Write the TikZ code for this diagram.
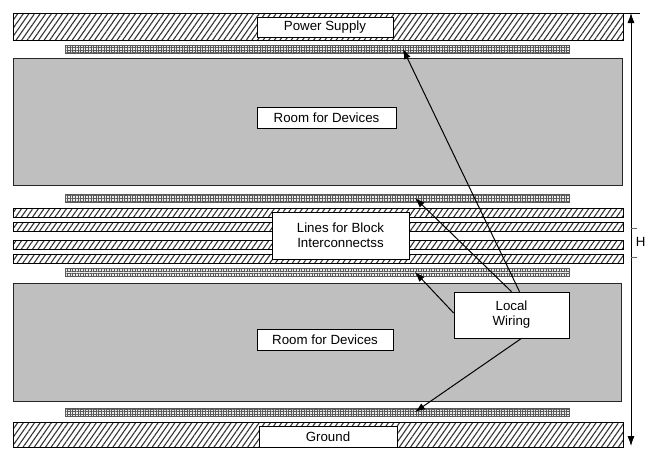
\documentclass[tikz,border=0pt]{standalone}
\usepackage{fontspec}
\setmainfont{Liberation Sans}
\usepackage{tikz}
\usetikzlibrary{arrows.meta, patterns.meta, positioning}
\definecolor{roomgray}{gray}{0.75}
\definecolor{railgray}{gray}{0.35}

\begin{document}
\begin{tikzpicture}[x=1pt, y=-1pt,
	hatched/.style={draw=black, line width=0.6pt, pattern={Lines[angle=55, distance=4.6pt, line width=1.1pt]}, pattern color=black!80},
	rail/.style={draw=railgray, line width=0.6pt, fill=gray!15, postaction={pattern={Hatch[angle=0, distance=2.6pt, line width=0.8pt]}, pattern color=railgray}},
	room/.style={draw=black!85, line width=0.7pt, fill=roomgray},
	label box/.style={draw=black, line width=0.7pt, fill=white, font=\fontsize{13.3}{15}\selectfont, align=center, inner sep=0pt},
	wire/.style={-{Latex[length=10pt, width=7pt]}, line width=1pt}
]

\useasboundingbox (0,0) rectangle (646,448);

\def \xl{13}  % left edge of the wide bars
\def \xr{623} % right edge of the wide bars
\def \rl{65}  % left edge of the rails
\def \rr{569} % right edge of the rails

\draw[hatched] (\xl, 13) rectangle (\xr, 40);  % power supply bar
\draw[hatched] (\xl, 422) rectangle (\xr, 447); % ground bar

\draw[room] (\xl, 58) rectangle (622, 185);  % upper room
\draw[room] (\xl, 283) rectangle (621, 401); % lower room

\foreach \ya/\yb in {208/217, 222/231, 240/249, 254/263} {
	\draw[hatched] (\xl, \ya) rectangle (\xr, \yb); % interconnect line
}

\foreach \y in {45, 194, 268, 408} {
	\draw[rail] (\rl, \y) rectangle (\rr, \y+8); % local rail
}

\node[label box, minimum width=136pt, minimum height=20pt] (supply)   at (325, 27)      {Power Supply};
\node[label box, minimum width=139pt, minimum height=21pt] (room top) at (326.5, 117.5) {Room for Devices};
\node[label box, minimum width=137pt, minimum height=47pt] (block)    at (340.5, 235.5) {Lines for Block\\Interconnectss};
\node[label box, minimum width=136pt, minimum height=21pt] (room bot) at (325, 339.5)   {Room for Devices};
\node[label box, minimum width=115pt, minimum height=46pt] (wiring)   at (511.5, 315)   {Local\\Wiring};
\node[label box, minimum width=138pt, minimum height=21pt] (ground)   at (328, 436.5)   {Ground};

\coordinate (tip supply) at (403, 49);
\coordinate (tip upper)  at (415, 198);
\coordinate (tip lower)  at (415, 272);
\coordinate (tip ground) at (415, 412);

\draw[wire] ([xshift=8pt]wiring.north)  -- (tip supply);
\draw[wire] (wiring.north)              -- (tip upper);
\draw[wire] ([yshift=2pt]wiring.west)   -- (tip lower);
\draw[wire] ([xshift=10pt]wiring.south) -- (tip ground);

% height marker
\coordinate (h top) at (631, 13);
\coordinate (h bot) at (631, 446);
\draw[{Latex[length=10pt, width=7pt]}-{Latex[length=10pt, width=7pt]}, line width=0.8pt] (h top) -- (h bot);
\draw[line width=0.6pt] (\xr, 13) -- (640, 13);
\draw[line width=0.4pt, black!60] (631, 228) -- (637, 228);
\draw[line width=0.4pt, black!60] (631, 257) -- (637, 257);
\node[font=\fontsize{13.3}{15}\selectfont, inner sep=0pt, anchor=east] (h label) at (645.8, 242) {H};

\end{tikzpicture}
\end{document}
